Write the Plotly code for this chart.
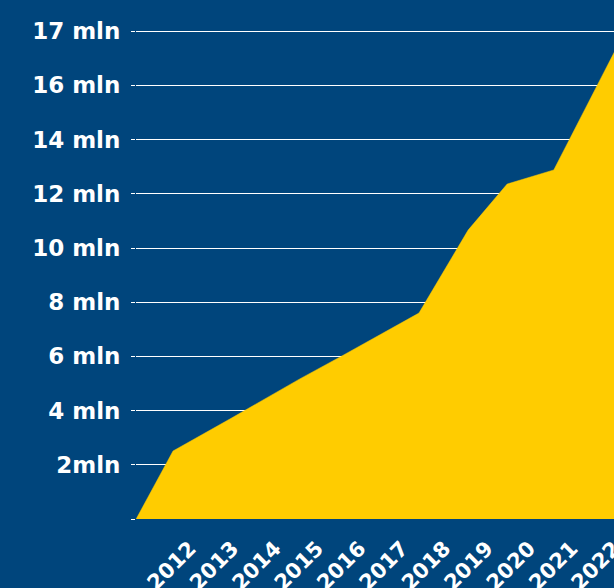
import plotly.graph_objects as go

# Data (x in decimal years, y in chart units: one gridline step = 2)
x_vals = [2010.73, 2011.60, 2012.94, 2014.59, 2015.54, 2017.40, 2018.56, 2019.48, 2020.58, 2022.26]
y_vals = [0.0, 2.51, 3.69, 5.17, 5.98, 7.60, 10.66, 12.36, 12.88, 18.0]

year_ticks = list(range(2012, 2023))
year_labels = [str(y) for y in year_ticks]

y_tickvals = [0, 2, 4, 6, 8, 10, 12, 14, 16, 18]
y_ticktext = ["", "2mln", "4 mln", "6 mln", "8 mln", "10 mln", "12 mln", "14 mln", "16 mln", "17 mln"]

BG = "#00457C"
YELLOW = "#FFCC00"

fig = go.Figure()
fig.add_trace(go.Scatter(
    x=x_vals, y=y_vals, mode="lines", fill="tozeroy",
    fillcolor=YELLOW, line=dict(color=YELLOW, width=0.5),
    hoverinfo="skip", showlegend=False,
))

W = 660
px_per_year = 42.4
x0_px = 136
tick2012_px = 190
x_left = 2012 - (tick2012_px - x0_px) / px_per_year
x_right = x_left + (W - x0_px) / px_per_year

fig.update_layout(
    width=W, height=588,
    margin=dict(l=136, r=0, t=0, b=69, autoexpand=False),
    paper_bgcolor=BG, plot_bgcolor=BG,
    xaxis=dict(
        range=[x_left, x_right], automargin=False,
        tickmode="array", tickvals=year_ticks, ticktext=year_labels,
        tickangle=-45, showgrid=False, zeroline=False, showline=False,
        ticks="", tickfont=dict(family="DejaVu Sans", size=21, color="white", weight="bold"),
        ticklabelstandoff=12,
    ),
    yaxis=dict(
        range=[0, 519 / 27.1], automargin=False,
        tickmode="array", tickvals=y_tickvals, ticktext=y_ticktext,
        showgrid=True, gridcolor="white", gridwidth=1,
        zeroline=False, showline=False,
        ticks="outside", ticklen=4, tickcolor="white", tickwidth=1,
        tickfont=dict(family="DejaVu Sans", size=23, color="white", weight="bold"),
        ticklabelstandoff=6,
        layer="above traces",
    ),
)

fig.write_html(
    "out.html",
    config={"displayModeBar": False},
    post_script="document.body.style.margin='0';document.body.style.overflow='hidden';"
                "document.documentElement.style.overflow='hidden';",
)
